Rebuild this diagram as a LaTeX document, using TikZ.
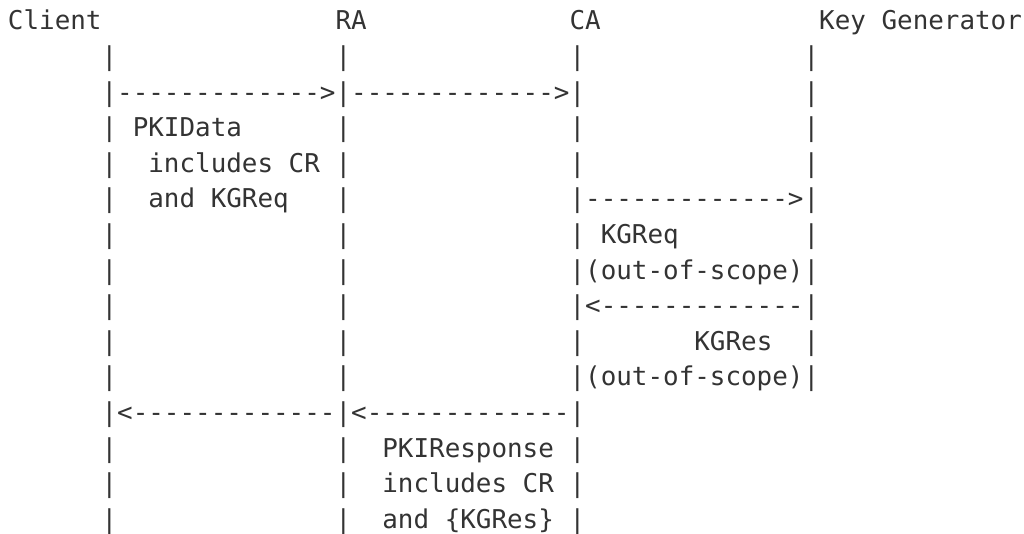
\documentclass[tikz,border=0pt]{standalone}
\usepackage{fontspec}
\setmonofont{DejaVu Sans Mono}
\usepackage{tikz}
\definecolor{ctexto}{HTML}{333333}
\tikzset{
  txt/.style={anchor=base west, inner sep=0pt, outer sep=0pt, text=ctexto,
    font=\ttfamily\fontsize{12.95pt}{17.8pt}\selectfont},
}

\begin{document}
\begin{tikzpicture}[x=7.8pt, y=-17.8pt]
  \useasboundingbox (0pt,0pt) rectangle (512pt,-267pt);
  \begin{scope}[shift={(4pt,-15pt)}]
    % participantes
    \node[txt] (cli) at (0,0) {Client};
    \node[txt] (ra) at (21,0) {RA};
    \node[txt] (ca) at (36,0) {CA};
    \node[txt] (kg) at (52,0) {Key Generator};
    % lineas de vida
    \foreach \col in {6,21,36}
      \foreach \fil in {1,...,14}
        \node[txt] (v\col-\fil) at (\col,\fil) {|};
    \foreach \fil in {1,...,10}
      \node[txt] (v51-\fil) at (51,\fil) {|};
    % mensajes
    \node[txt] (req1) at (7,2) {------------->};
    \node[txt] (req2) at (22,2) {------------->};
    \node[txt] (pkid) at (8,3) {PKIData};
    \node[txt] (pkid2) at (9,4) {includes CR};
    \node[txt] (pkid3) at (9,5) {and KGReq};
    \node[txt] (kgq) at (37,5) {------------->};
    \node[txt] (kgq1) at (38,6) {KGReq};
    \node[txt] (kgq2) at (37,7) {(out-of-scope)};
    \node[txt] (kgs) at (37,8) {<-------------};
    \node[txt] (kgs1) at (44,9) {KGRes};
    \node[txt] (kgs2) at (37,10) {(out-of-scope)};
    \node[txt] (res1) at (7,11) {<-------------};
    \node[txt] (res2) at (22,11) {<-------------};
    \node[txt] (pkir) at (24,12) {PKIResponse};
    \node[txt] (pkir2) at (24,13) {includes CR};
    \node[txt] (pkir3) at (24,14) {and \{KGRes\}};
  \end{scope}
\end{tikzpicture}
\end{document}
